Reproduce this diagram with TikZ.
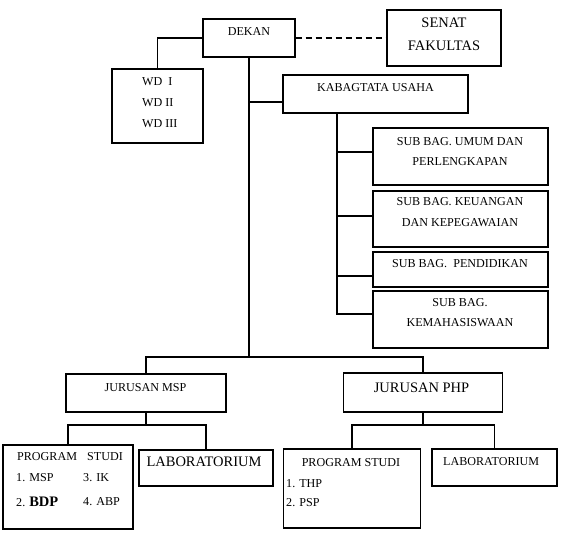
\documentclass[tikz,border=0pt]{standalone}
\usepackage{fontspec}
\setmainfont{Liberation Serif}
\begin{document}
\begin{tikzpicture}[x=1pt,y=-1pt]
\tikzset{
 box/.style={draw, line width=1.1pt, inner sep=0pt, fill=white},
 txt/.style={inner sep=0pt, font=\fontsize{12.1}{14}\selectfont},
 lefttxt/.style={txt, anchor=west},
 bigtxt/.style={inner sep=0pt, font=\fontsize{14.5}{16}\selectfont},
 conn/.style={line width=1.1pt},
}
\fill[white] (0,0) rectangle (566,535);
\useasboundingbox (0,0) rectangle (566,535);
% boxes
\node[box, minimum width=92pt, minimum height=38pt] (dekan) at (249,38) {};
\node[box, minimum width=114pt, minimum height=56pt] (senat) at (444,38) {};
\node[box, minimum width=91pt, minimum height=74pt] (wd) at (157.5,106) {};
\node[box, minimum width=185pt, minimum height=38pt] (kabag) at (375.5,94) {};
\node[box, minimum width=175pt, minimum height=57pt] (sub1) at (460.5,156.5) {};
\node[box, minimum width=175pt, minimum height=56pt] (sub2) at (460.5,219) {};
\node[box, minimum width=175pt, minimum height=35pt] (sub3) at (460.5,269.5) {};
\node[box, minimum width=175pt, minimum height=57pt] (sub4) at (460.5,319.5) {};
\node[box, minimum width=160pt, minimum height=38pt] (jmsp) at (146,393) {};
\node[box, minimum width=159pt, minimum height=39pt] (jphp) at (423,392.5) {};
\node[box, minimum width=130pt, minimum height=84pt] (prog1) at (68,487) {};
\node[box, minimum width=134pt, minimum height=36pt] (lab1) at (206,468) {};
\node[box, minimum width=137pt, minimum height=79pt] (prog2) at (352,488.5) {};
\node[box, minimum width=125pt, minimum height=37pt] (lab2) at (494.5,467.5) {};
% connectors
\coordinate (ka) at (249,102);
\coordinate (split) at (249,357);
\coordinate (kv) at (337,315);
\coordinate (s1) at (337,152);
\coordinate (s2) at (337,216);
\coordinate (s3) at (337,276);
\coordinate (s4) at (337,314);
\coordinate (m) at (146,425);
\coordinate (p) at (423,425);
\draw[conn] (dekan.west) -| (wd.north);
\draw[conn, dash pattern=on 6pt off 4pt] (dekan.east) -- (senat.west);
\draw[conn] (dekan.south) -- (split);
\draw[conn] (ka) -- (ka -| kabag.west);
\draw[conn] (kabag.south -| kv) -- (kv);
\draw[conn] (s1) -- (s1 -| sub1.west);
\draw[conn] (s2) -- (s2 -| sub2.west);
\draw[conn] (s3) -- (s3 -| sub3.west);
\draw[conn] (s4) -- (s4 -| sub4.west);
\draw[conn] (jmsp.north) |- (split) -| (jphp.north);
\draw[conn] (jmsp.south) -- (m);
\draw[conn] (prog1.north) |- (m) -| (lab1.north);
\draw[conn] (jphp.south) -- (p);
\draw[conn] (prog2.north) |- (p) -| (lab2.north);
% texts
\node[txt] (tdekan) at (249,32) {DEKAN};
\node[bigtxt] (tsenat1) at (444,23) {SENAT};
\node[bigtxt] (tsenat2) at (444,46) {FAKULTAS};
\node[lefttxt] (twd1) at (142,82) {WD\ \ I};
\node[lefttxt] (twd2) at (142,103) {WD\ II};
\node[lefttxt] (twd3) at (142,124) {WD\ III};
\node[txt] (tkabag) at (375.5,88) {KABAGTATA USAHA};
\node[txt] (tsub1a) at (460,142) {SUB BAG. UMUM DAN};
\node[txt] (tsub1b) at (460,162) {PERLENGKAPAN};
\node[txt] (tsub2a) at (460,202) {SUB BAG. KEUANGAN};
\node[txt] (tsub2b) at (460,223) {DAN KEPEGAWAIAN};
\node[txt] (tsub3) at (460,264) {SUB BAG.\ \ PENDIDIKAN};
\node[txt] (tsub4a) at (460,303) {SUB BAG.};
\node[txt] (tsub4b) at (460,323) {KEMAHASISWAAN};
\node[txt] (tjmsp) at (145.5,388) {JURUSAN MSP};
\node[bigtxt] (tjphp) at (421.5,388) {JURUSAN PHP};
\node[lefttxt] (tp1a) at (17,457) {PROGRAM};
\node[lefttxt] (tp1b) at (87,457) {STUDI};
\node[lefttxt] (tp1c) at (16,478) {1. MSP};
\node[lefttxt] (tp1d) at (83,478) {3. IK};
\node[lefttxt] (tp1e) at (16,502) {2. {\fontsize{14.5}{16}\selectfont\bfseries BDP}};
\node[lefttxt] (tp1f) at (83,502) {4. ABP};
\node[bigtxt] (tlab1) at (204,462) {LABORATORIUM};
\node[txt] (tp2a) at (351,463) {PROGRAM STUDI};
\node[lefttxt] (tp2b) at (286,484) {1. THP};
\node[lefttxt] (tp2c) at (286,503) {2. PSP};
\node[lefttxt] (tlab2) at (443,462) {LABORATORIUM};
\end{tikzpicture}
\end{document}
